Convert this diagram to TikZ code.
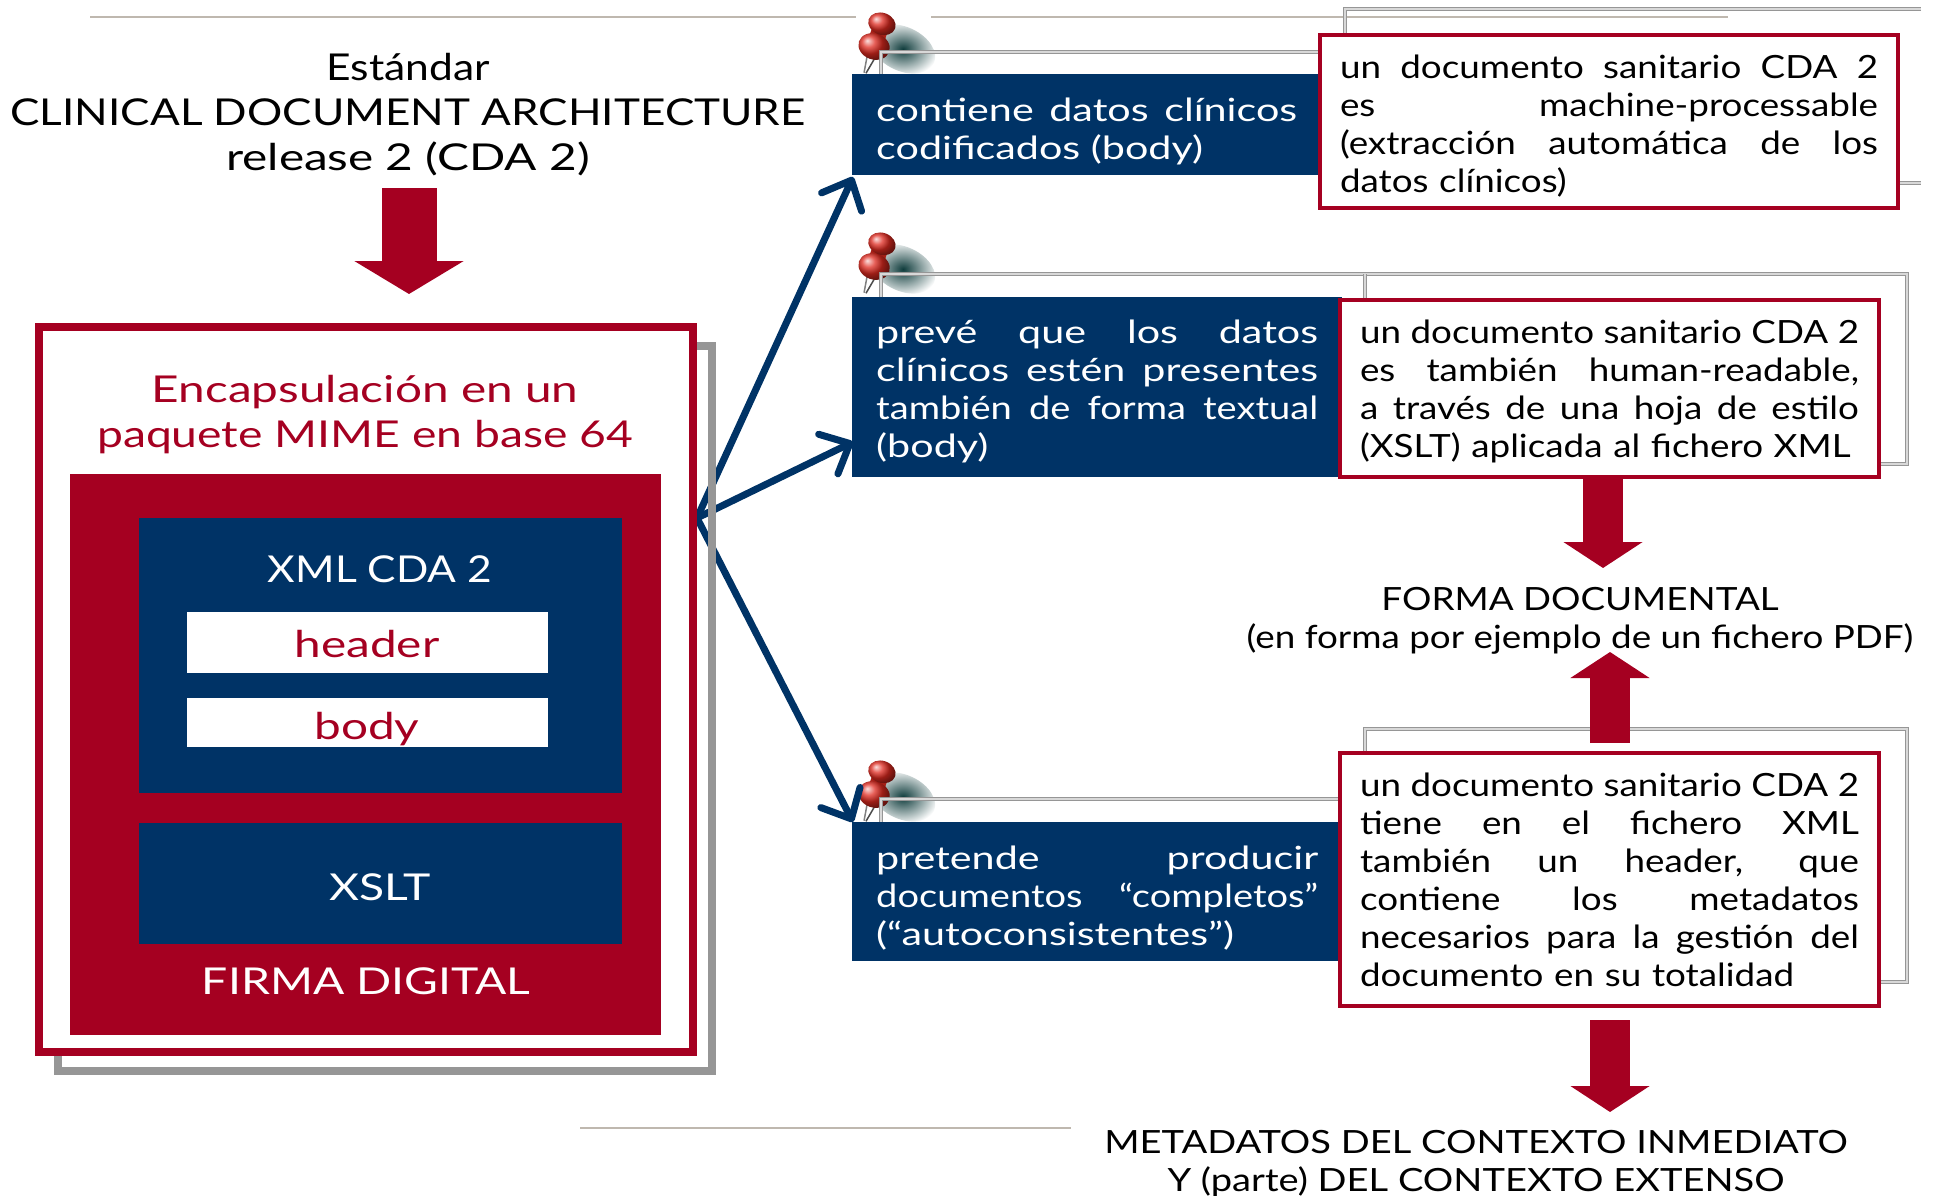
\documentclass[tikz,border=0pt]{standalone}
\usepackage{fontspec}
\setmainfont[FakeStretch=1.15]{Lato}
\newfontfamily\capsfont[FakeStretch=1.19]{Lato}
\newfontfamily\midfont[FakeStretch=1.25]{Lato}
\newfontfamily\widefont[FakeStretch=1.29]{Lato}
\usetikzlibrary{positioning, arrows.meta}
\definecolor{crimson}{HTML}{A50021}
\definecolor{navy}{HTML}{003366}
\definecolor{frameline}{HTML}{969696}
\definecolor{framelight}{HTML}{D8D8D8}
\definecolor{beige}{HTML}{BFB8AF}
\definecolor{pinred}{HTML}{DE2A20}
\definecolor{pinshadow}{HTML}{0F3C3C}
\newcommand{\fillline}[1]{\makebox[\hsize][s]{\spaceskip=.3em plus 1fil minus .1em #1}\\}
\newcommand{\topgap}[1]{\rule{0pt}{#1}}
\tikzset{
        x=1pt, y=-1pt,
        bigfont/.style={font=\fontsize{37}{45}\selectfont},
        boxfont/.style={font=\fontsize{32}{38}\selectfont},
        navybox/.style={anchor=north west, fill=navy, text=white, inner xsep=24pt, inner ysep=0pt, align=left, font=\fontsize{32}{38}\selectfont\widefont}, % the notes on the left
        redbox/.style={anchor=north west, draw=crimson, line width=4pt, fill=white, inner xsep=20pt, inner ysep=0pt, align=left, boxfont}, % the notes on the right
        plainbox/.style={anchor=north west, minimum width=#1, inner sep=0pt},
        backline/.style={draw=frameline, line width=1.3pt, double=framelight, double distance=1.2pt},
        ruleline/.style={draw=beige, line width=2.5pt},
        navyarrow/.style={draw=navy, line width=7pt, -{Straight Barb[round, length=24pt, width=44pt]}},
        bigarrow/.style={draw=crimson, line width=40pt, -{Triangle[length=26pt, width=78pt]}},
        pushpin/.pic={
            \shade[inner color=pinshadow, outer color=white, shift={(38,-24)}, rotate=-25] (0,0) ellipse (34 and 22);
            \begin{scope}[rotate=-19]
                \draw[gray, line width=1.5pt] (-1,0) -- (-4,-20);
                \draw[gray!60!black, line width=1.5pt] (1,0) -- (5,-20);
                \fill[pinred!75!black] (-8,-30) rectangle (8,-50);
                \shade[ball color=pinred] (0,-28) ellipse (16 and 13);
                \shade[ball color=pinred] (0,-52) ellipse (14 and 11);
            \end{scope}
        },
}
\begin{document}
\begin{tikzpicture}
    \useasboundingbox (0,0) rectangle (1940,1196);

    \draw[ruleline] (90,17) -- (856,17);
    \draw[ruleline] (931,17) -- (1728,17);
    \draw[ruleline] (580,1128) -- (1071,1128);

    % pins
    \foreach \y in {73,293,821}
        \pic at (865,\y) {pushpin};

    % frames behind the notes
    \draw[backline] (1921,9) -- (1345,9) -- (1345,40);
    \draw[backline] (1895,183) -- (1921,183);
    \draw[backline] (881,80) -- (881,52) -- (1325,52);
    \draw[backline] (881,300) -- (881,274) -- (1907,274) -- (1907,464) -- (1875,464);
    \draw[backline] (1365,274) -- (1365,300);
    \draw[backline] (881,825) -- (881,799) -- (1345,799);
    \draw[backline] (1365,760) -- (1365,729) -- (1907,729) -- (1907,982) -- (1875,982);

    \node[navybox, text width=421pt, minimum height=101pt] (navyone) at (852,74) {\topgap{37pt}\fillline{contiene datos clínicos}codificados (body)};
    \node[navybox, text width=442pt, minimum height=180pt] (navytwo) at (852,297) {\topgap{33pt}\fillline{prevé que los datos}\fillline{clínicos estén presentes}\fillline{\capsfont también de forma textual}(body)};
    \node[navybox, text width=442pt, minimum height=139pt] (navythree) at (852,822) {\topgap{37pt}\fillline{pretende producir}\fillline{\capsfont documentos “completos”}(“autoconsistentes”)};

    \node[redbox, text width=538pt, minimum height=173pt] (redone) at (1318,33) {\topgap{33pt}\fillline{un documento sanitario CDA 2}\fillline{es machine-processable}\fillline{(extracción automática de los}datos clínicos)};
    \node[redbox, text width=499pt, minimum height=177pt] (redtwo) at (1338,298) {\topgap{30pt}\fillline{un documento sanitario CDA 2}\fillline{es también human-readable,}\fillline{a través de una hoja de estilo}(XSLT) aplicada al fichero XML};
    \node[redbox, text width=499pt, minimum height=253pt] (redthree) at (1338,751) {\fillline{un documento sanitario CDA 2}\fillline{tiene en el fichero XML}\fillline{también un header, que}\fillline{contiene los metadatos}\fillline{necesarios para la gestión del}documento en su totalidad};

    \coordinate (apex) at (697,518);
    \coordinate (tipone) at (853,177);
    \coordinate (tiptwo) at (853,442);
    \coordinate (tipthree) at (853,822);
    \draw[navyarrow] (apex) -- (tipone);
    \draw[navyarrow] (apex) -- (tiptwo);
    \draw[navyarrow] (apex) -- (tipthree);

    % left block
    \node[plainbox=654pt, draw=frameline, line width=8pt, minimum height=725pt] (backframe) at (54,342) {};
    \node[plainbox=654pt, draw=crimson, fill=white, line width=8pt, minimum height=725pt] (mainframe) at (35,323) {};
    \node[plainbox=591pt, fill=crimson, minimum height=561pt] (mimeblock) at (70,474) {};
    \node[plainbox=483pt, fill=navy, minimum height=275pt] (xmlblock) at (139,518) {};
    \node[plainbox=483pt, fill=navy, minimum height=121pt] (xsltblock) at (139,823) {};
    \node[plainbox=361pt, fill=white, minimum height=61pt] (headerblock) at (187,612) {};
    \node[plainbox=361pt, fill=white, minimum height=49pt] (bodyblock) at (187,698) {};

    \node[bigfont, align=center] (standard) at (408,115) {Estándar\\{\capsfont CLINICAL DOCUMENT ARCHITECTURE}\\{\widefont release 2 (CDA 2)}};
    \node[bigfont, align=center, text=crimson] (mimetext) at (365,415) {{\widefont Encapsulación en un}\\{\midfont paquete MIME en base 64}};
    \node[bigfont, text=white] (xmltext) at (380,569) {XML CDA 2};
    \node[bigfont, text=crimson] (headertext) at (367,644) {\widefont header};
    \node[bigfont, text=crimson] (bodytext) at (367,729) {\widefont body};
    \node[bigfont, text=white] (xslttext) at (380,887) {\midfont XSLT};
    \node[bigfont, text=white] (firmatext) at (366,981) {\midfont FIRMA DIGITAL};

    \node[boxfont, align=center] (formatext) at (1580,621) {FORMA DOCUMENTAL\\(en forma por ejemplo de un fichero PDF)};
    \node[boxfont, align=center] (metatext) at (1476,1164) {{\capsfont METADATOS DEL CONTEXTO INMEDIATO}\\{\capsfont Y (parte) DEL CONTEXTO EXTENSO}};

    % block arrows
    \coordinate (arrowonestart) at (409,188);
    \coordinate (arrowoneend) at (409,294);
    \coordinate (arrowtwostart) at (1603,477);
    \coordinate (arrowtwoend) at (1603,568);
    \coordinate (arrowthreestart) at (1610,743);
    \coordinate (arrowthreeend) at (1610,652);
    \coordinate (arrowfourstart) at (1610,1020);
    \coordinate (arrowfourend) at (1610,1112);
    \draw[bigarrow, line width=55pt, -{Triangle[length=33pt, width=108pt]}] (arrowonestart) -- (arrowoneend);
    \draw[bigarrow] (arrowtwostart) -- (arrowtwoend);
    \draw[bigarrow] (arrowthreestart) -- (arrowthreeend);
    \draw[bigarrow] (arrowfourstart) -- (arrowfourend);
\end{tikzpicture}
\end{document}
